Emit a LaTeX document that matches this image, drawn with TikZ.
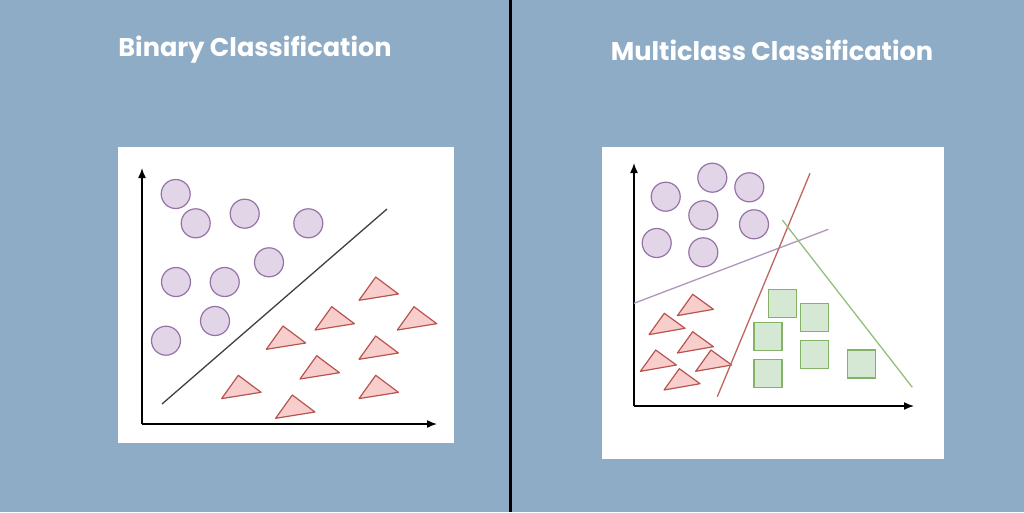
\documentclass[tikz,border=0pt]{standalone}
\usepackage{fontspec}
\setmainfont{Poppins}
\usetikzlibrary{arrows.meta}
\definecolor{bg}{HTML}{8FACC6}
\definecolor{pfill}{HTML}{E1D5E7}
\definecolor{pdraw}{HTML}{9673A6}
\definecolor{rfill}{HTML}{F8CECC}
\definecolor{rdraw}{HTML}{B85450}
\definecolor{gfill}{HTML}{D5E8D4}
\definecolor{gdraw}{HTML}{82B366}
\tikzset{
  panel/.style={fill=white,draw=none},
  axis/.style={line width=1.5pt,-{Latex[length=10pt,width=8pt]}},
  dot/.style={circle,fill=pfill,draw=pdraw,line width=1.2pt,minimum size=29pt,inner sep=0pt},
  tri/.style={fill=rfill,draw=rdraw,line width=1.2pt,line join=round},
  sq/.style={rectangle,fill=gfill,draw=gdraw,line width=1.2pt,minimum size=28pt,inner sep=0pt},
  title/.style={text=white,font=\bfseries\fontsize{25.6}{30}\selectfont},
}
\newcommand{\trione}[2]{\draw[tri] (#1,#2) -- ++(22.7,-17) -- ++(-39.4,-6.3) -- cycle;}
\newcommand{\tritwo}[2]{\draw[tri] (#1,#2) -- ++(20.7,-15) -- ++(-36,-6.3) -- cycle;}
\begin{document}
\begin{tikzpicture}[x=1pt,y=1pt]
\fill[bg] (0,0) rectangle (1024,-512);
\useasboundingbox (0,0) rectangle (1024,-512);
\draw[black,line width=3pt] (510,0) -- (510,-512);
% titles
\node[title] (t1) at (255,-50) {Binary Classification};
\node[title] (t2) at (772,-50) {Multiclass Classification};
% left panel
\fill[panel] (118,-147) rectangle (454,-443);
\coordinate (lo) at (142,-424);
\coordinate (ly) at (142,-168);
\coordinate (lx) at (437,-424);
\draw[axis] (lo) -- (ly);
\draw[axis] (lo) -- (lx);
\coordinate (d1) at (162,-404);
\coordinate (d2) at (387,-209);
\draw[black!75,line width=1.3pt] (d1) -- (d2);
\foreach \x/\y [count=\i] in {175.7/194,195.7/223.3,244.7/213.7,308.3/223.3,269/262.3,176/282,224.7/282,215/321,166/340.7}
  \node[dot] (lc\i) at (\x,-\y) {};
\foreach \x/\y in {375.7/277,331.7/306.7,414/306.7,283/326,375.7/336,316.7/355.7,238.3/375.3,375.7/375.3,292.3/395}
  \trione{\x}{-\y}
% right panel
\fill[panel] (602,-147) rectangle (944,-459);
\coordinate (ro) at (634,-406);
\coordinate (ry) at (634,-163);
\coordinate (rx) at (914,-406);
\draw[axis] (ro) -- (ry);
\draw[axis] (ro) -- (rx);
\foreach \x/\y [count=\i] in {665.7/196.7,712.3/177.7,749.3/187.3,703.3/215.3,754/224.3,656.7/243,703.3/252.3}
  \node[dot] (rc\i) at (\x,-\y) {};
\foreach \x/\y [count=\i] in {782.2/303.7,814.5/317.5,768/336.2,814.5/354.8,768/373.3,861.2/364}
  \node[sq] (rs\i) at (\x,-\y) {};
\foreach \x/\y in {692.7/294.3,664.3/313.3,692.7/331.7,655.7/350,711/350,679.3/368.7}
  \tritwo{\x}{-\y}
\coordinate (p1) at (634,-303.3);
\coordinate (p2) at (828.3,-229.3);
\coordinate (r1) at (717.3,-396.7);
\coordinate (r2) at (810,-173.3);
\coordinate (g1) at (782.3,-220);
\coordinate (g2) at (912.3,-387.3);
\draw[pdraw!75,line width=1.3pt] (p1) -- (p2);
\draw[rdraw!90,line width=1.3pt] (r1) -- (r2);
\draw[gdraw!85,line width=1.3pt] (g1) -- (g2);
\end{tikzpicture}
\end{document}
